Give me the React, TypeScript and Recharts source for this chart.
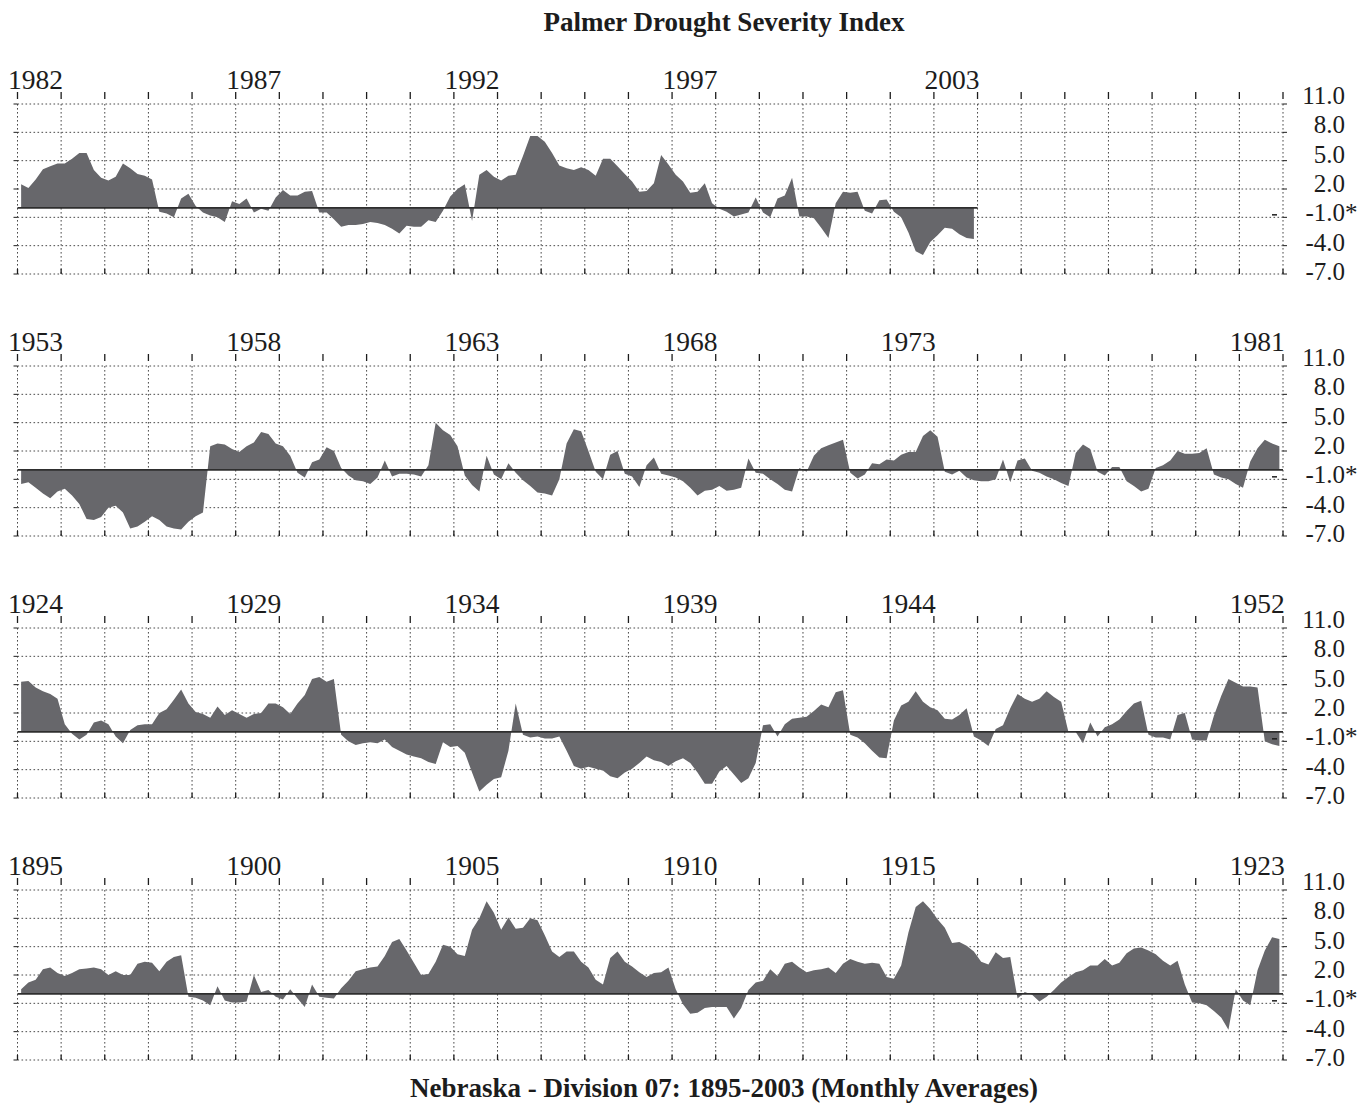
import { AreaChart, Area, XAxis, YAxis, CartesianGrid, ReferenceLine } from "recharts";

// Palmer index, six readings per year (two-month steps)
const PDSI_1982_2003 = [
  2.5, 2.1, 3.0, 4.1, 4.4, 4.7, // 1982
  4.7, 5.2, 5.8, 5.8, 4.0, 3.2,
  2.9, 3.3, 4.7, 4.2, 3.6, 3.4,
  3.0, -0.4, -0.6, -1.0, 1.0, 1.5, // 1985
  0.2, -0.5, -0.8, -1.0, -1.5, 0.7,
  0.4, 1.0, -0.5, -0.1, -0.3, 1.1,
  1.9, 1.3, 1.3, 1.7, 1.8, -0.5,
  -0.5, -1.2, -2.0, -1.8, -1.8, -1.7,
  -1.5, -1.6, -1.8, -2.2, -2.7, -1.9, // 1990
  -2.0, -2.0, -1.3, -1.5, -0.3, 1.2,
  2.0, 2.5, -1.4, 3.5, 4.0, 3.3,
  2.9, 3.4, 3.5, 5.5, 7.6, 7.6,
  7.0, 5.8, 4.5, 4.2, 4.0, 4.3,
  4.0, 3.4, 5.2, 5.2, 4.4, 3.6, // 1995
  2.8, 1.7, 1.8, 2.6, 5.6, 4.6,
  3.5, 2.8, 1.6, 1.7, 2.6, 0.5,
  -0.1, -0.4, -0.9, -0.7, -0.5, 1.1,
  -0.5, -1.0, 1.0, 1.3, 3.2, -0.9,
  -0.9, -1.1, -2.1, -3.2, 0.5, 1.7, // 2000
  1.6, 1.7, -0.3, -0.6, 0.8, 0.9,
  -0.4, -1.0, -2.6, -4.6, -5.0, -3.6,
  -2.9, -2.1, -2.2, -2.8, -3.2, -3.3,
];

const PDSI_1953_1981 = [
  -1.5, -1.3, -1.9, -2.5, -3.0, -2.3, // 1953
  -2.0, -2.7, -3.6, -5.2, -5.3, -5.0,
  -4.0, -3.8, -4.5, -6.2, -6.0, -5.5, // 1955
  -4.9, -5.3, -6.0, -6.2, -6.3, -5.5,
  -4.9, -4.5, 2.5, 2.8, 2.7, 2.2,
  1.9, 2.5, 2.9, 4.0, 3.8, 2.8,
  2.5, 1.5, -0.3, -0.8, 0.8, 1.1,
  2.4, 2.0, 0.2, -0.6, -1.1, -1.2, // 1960
  -1.5, -0.8, 1.0, -0.7, -0.4, -0.4,
  -0.5, -0.7, 0.5, 5.0, 4.2, 3.7,
  2.5, -0.6, -1.6, -2.3, 1.5, -0.5,
  -1.0, 0.7, -0.3, -1.1, -1.7, -2.4,
  -2.5, -2.7, -1.0, 2.8, 4.3, 4.1, // 1965
  2.0, -0.2, -1.0, 1.6, 2.0, -0.4,
  -0.7, -1.8, 0.5, 1.3, -0.4, -0.6,
  -0.8, -1.2, -1.9, -2.7, -2.2, -2.1,
  -1.7, -2.2, -2.1, -1.9, 1.2, -0.3,
  -0.4, -1.0, -1.5, -2.1, -2.3, 0.2, // 1970
  -0.2, 1.5, 2.3, 2.6, 2.9, 3.2,
  -0.3, -0.9, -0.5, 0.7, 0.6, 1.1,
  1.0, 1.6, 1.9, 1.9, 3.6, 4.2,
  3.5, -0.2, -0.5, -0.1, -0.8, -1.1,
  -1.2, -1.2, -1.0, 1.1, -1.3, 1.0, // 1975
  1.2, -0.1, -0.3, -0.7, -1.0, -1.4,
  -1.7, 1.8, 2.7, 2.2, -0.2, -0.6,
  0.3, 0.3, -1.2, -1.7, -2.3, -2.0,
  0.2, 0.5, 1.0, 2.0, 1.7, 1.7,
  1.8, 2.3, -0.5, -0.8, -1.0, -1.5, // 1980
  -1.9, 0.9, 2.3, 3.2, 2.8, 2.5,
];

const PDSI_1924_1952 = [
  5.3, 5.4, 4.7, 4.3, 4.0, 3.5, // 1924
  0.8, -0.2, -0.8, -0.3, 1.0, 1.2, // 1925
  0.8, -0.5, -1.2, 0.2, 0.7, 0.8,
  0.8, 2.0, 2.4, 3.4, 4.5, 3.0,
  2.1, 1.9, 1.5, 2.7, 1.8, 2.3,
  1.9, 1.5, 1.9, 2.0, 3.0, 3.0,
  2.6, 1.9, 3.0, 3.9, 5.6, 5.8, // 1930
  5.3, 5.6, -0.3, -1.0, -1.4, -1.2,
  -1.1, -1.2, -0.8, -1.6, -2.0, -2.4,
  -2.6, -2.8, -3.2, -3.4, -1.1, -1.6,
  -1.5, -2.2, -4.3, -6.3, -5.6, -5.0,
  -4.8, -2.0, 3.0, -0.3, -0.6, -0.5, // 1935
  -0.7, -0.7, -0.5, -2.0, -3.6, -3.9,
  -3.7, -3.9, -4.1, -4.7, -4.9, -4.3,
  -3.9, -3.3, -2.6, -3.0, -3.2, -3.6,
  -3.1, -2.8, -3.3, -4.3, -5.5, -5.5,
  -4.2, -3.6, -4.5, -5.4, -4.9, -3.3, // 1940
  0.7, 0.8, -0.5, 0.8, 1.4, 1.5,
  1.6, 2.2, 2.9, 2.6, 4.2, 4.4,
  -0.3, -0.6, -1.2, -2.0, -2.7, -2.8,
  1.2, 2.8, 3.2, 4.3, 3.2, 2.6,
  2.3, 1.4, 1.3, 1.8, 2.5, -0.5, // 1945
  -0.9, -1.5, 0.3, 0.7, 2.5, 4.0,
  3.5, 3.2, 3.5, 4.3, 3.7, 3.2,
  0.0, 0.0, -1.2, 1.0, -0.5, 0.5,
  0.8, 1.3, 2.2, 3.0, 3.3, -0.3,
  -0.6, -0.6, -0.8, 1.8, 2.0, -0.8, // 1950
  -0.9, -0.9, 1.7, 3.8, 5.6, 5.2,
  4.8, 4.8, 4.7, -1.0, -1.3, -1.5,
];

const PDSI_1895_1923 = [
  0.5, 1.2, 1.5, 2.6, 2.8, 2.2, // 1895
  1.9, 2.2, 2.6, 2.7, 2.8, 2.6,
  2.0, 2.4, 2.0, 2.0, 3.2, 3.4,
  3.3, 2.4, 3.4, 3.9, 4.1, -0.3,
  -0.4, -0.7, -1.2, 0.8, -0.7, -0.9,
  -0.9, -0.8, 2.0, 0.2, 0.4, -0.3, // 1900
  -0.6, 0.5, -0.5, -1.4, 1.0, -0.3,
  -0.4, -0.5, 0.6, 1.4, 2.4, 2.6,
  2.8, 2.9, 4.0, 5.5, 5.8, 4.6,
  3.3, 2.0, 2.1, 3.4, 5.2, 5.0,
  4.2, 4.0, 6.8, 8.0, 9.8, 8.6, // 1905
  6.8, 8.1, 6.9, 7.0, 8.0, 7.8,
  6.2, 4.5, 3.9, 4.5, 4.5, 3.4,
  2.8, 1.5, 1.0, 3.8, 4.5, 3.4,
  2.9, 2.3, 1.8, 2.2, 2.3, 2.8,
  0.5, -1.1, -2.1, -2.0, -1.5, -1.4, // 1910
  -1.4, -1.4, -2.6, -1.5, 0.4, 1.2,
  1.4, 2.6, 1.9, 3.2, 3.4, 2.8,
  2.3, 2.5, 2.6, 2.8, 2.2, 3.2,
  3.7, 3.4, 3.2, 3.3, 3.2, 1.8,
  1.6, 3.0, 6.5, 9.2, 9.8, 9.0, // 1915
  7.9, 7.0, 5.4, 5.5, 5.1, 4.5,
  3.4, 3.1, 4.4, 3.8, 3.9, -0.5,
  0.2, -0.1, -0.8, -0.3, 0.4, 1.2,
  1.8, 2.3, 2.5, 3.0, 3.0, 3.7,
  3.0, 3.3, 4.3, 4.8, 4.9, 4.6, // 1920
  4.2, 3.5, 3.0, 3.5, 1.0, -0.9,
  -1.0, -1.2, -1.8, -2.5, -3.8, 0.5,
  -0.7, -1.2, 2.5, 4.6, 6.0, 5.8,
];

const LABELS_1982 = [1982, 1987, 1992, 1997, 2003];
const LABELS_1953 = [1953, 1958, 1963, 1968, 1973, 1981];
const LABELS_1924 = [1924, 1929, 1934, 1939, 1944, 1952];
const LABELS_1895 = [1895, 1900, 1905, 1910, 1915, 1923];

const INDEX_TICKS = [11, 8, 5, 2, -1, -4, -7];
const STARRED_TICK = -1;
const YEARS_PER_PANEL = 29;
const PER_YEAR = 6;

const PANELS = [
  { start: 1982, values: PDSI_1982_2003, labels: LABELS_1982 },
  { start: 1953, values: PDSI_1953_1981, labels: LABELS_1953 },
  { start: 1924, values: PDSI_1924_1952, labels: LABELS_1924 },
  { start: 1895, values: PDSI_1895_1923, labels: LABELS_1895 },
];

const W = 1360;
const PLOT_L = 17.5;
const PLOT_R = 1283;
const AXIS_BAND = 60;
const PLOT_H = 170;
const CHART_H = 262;
const SERIF = "'Liberation Serif', 'Times New Roman', serif";
const INK = "#1c1c1c";

function YearTick(props: any) {
  const { x, payload, labels } = props;
  const year = payload.value;
  return (
    <g>
      <line x1={x} x2={x} y1={AXIS_BAND - 12} y2={AXIS_BAND - 5} stroke={INK} strokeWidth={1.3} />
      <line x1={x} x2={x} y1={AXIS_BAND + PLOT_H - 5} y2={AXIS_BAND + PLOT_H} stroke={INK} strokeWidth={1.3} />
      {labels.includes(year) && (
        <text x={x + 18} y={AXIS_BAND - 15} textAnchor="middle" fontFamily={SERIF} fontSize={27.5} fill={INK}>
          {year}
        </text>
      )}
    </g>
  );
}

function IndexTick(props: any) {
  const { y, payload } = props;
  const v = payload.value;
  const ty = y + (11 - v) / 3;
  return (
    <g>
      <line x1={PLOT_L - 4} x2={PLOT_L} y1={y} y2={y} stroke={INK} strokeWidth={1} />
      <line x1={PLOT_R} x2={PLOT_R + 4} y1={y} y2={y} stroke={INK} strokeWidth={1} />
      <text x={1345} y={ty} textAnchor="end" fontFamily={SERIF} fontSize={25} fill={INK}>
        {v.toFixed(1)}
      </text>
      {v === STARRED_TICK && (
        <>
          <text x={1345} y={ty} textAnchor="start" fontFamily={SERIF} fontSize={25} fill={INK}>
            *
          </text>
          <line x1={PLOT_R - 11} x2={PLOT_R - 6} y1={y - 2.5} y2={y - 2.5} stroke={INK} strokeWidth={1.5} />
        </>
      )}
    </g>
  );
}

function Panel({ start, values, labels }: { start: number; values: number[]; labels: number[] }) {
  const data = values.map((v, i) => ({ t: start + (i + 0.5) / PER_YEAR, v }));
  const years = Array.from({ length: YEARS_PER_PANEL + 1 }, (_, i) => start + i);
  const dataEnd = start + values.length / PER_YEAR;
  return (
    <AreaChart
      width={W}
      height={CHART_H}
      data={data}
      margin={{ top: 0, right: 0, left: PLOT_L, bottom: CHART_H - AXIS_BAND - PLOT_H }}
    >
      <CartesianGrid stroke="#4a4a4a" strokeDasharray="1.6 2.4" strokeWidth={1} />
      <XAxis
        dataKey="t"
        type="number"
        orientation="top"
        domain={[start, start + YEARS_PER_PANEL]}
        ticks={years}
        interval={0}
        height={AXIS_BAND}
        axisLine={false}
        tickLine={false}
        tick={(p: any) => <YearTick {...p} labels={labels} />}
      />
      <YAxis
        type="number"
        orientation="right"
        domain={[-7, 11]}
        ticks={INDEX_TICKS}
        interval={0}
        width={W - PLOT_R}
        axisLine={false}
        tickLine={false}
        tick={(p: any) => <IndexTick {...p} />}
      />
      <Area
        dataKey="v"
        type="linear"
        baseValue={0}
        stroke="none"
        fill="#67676b"
        fillOpacity={1}
        dot={false}
        activeDot={false}
        isAnimationActive={false}
      />
      <ReferenceLine
        segment={[
          { x: start, y: 0 },
          { x: dataEnd, y: 0 },
        ]}
        stroke="#2e2e2e"
        strokeWidth={1.6}
      />
    </AreaChart>
  );
}

export default function App() {
  return (
    <div style={{ position: "absolute", left: 0, top: 0, width: W, height: 1103, background: "#fff" }}>
      <svg width={W} height={1103} style={{ position: "absolute", left: 0, top: 0 }}>
        <text x={724} y={31} textAnchor="middle" fontFamily={SERIF} fontWeight="bold" fontSize={27} fill={INK}>
          Palmer Drought Severity Index
        </text>
        <text x={724} y={1097} textAnchor="middle" fontFamily={SERIF} fontWeight="bold" fontSize={27} fill={INK}>
          Nebraska - Division 07: 1895-2003 (Monthly Averages)
        </text>
      </svg>
      {PANELS.map((p, i) => (
        <div key={p.start} style={{ position: "absolute", left: 0, top: 43.5 + i * 262.2 }}>
          <Panel start={p.start} values={p.values} labels={p.labels} />
        </div>
      ))}
    </div>
  );
}
